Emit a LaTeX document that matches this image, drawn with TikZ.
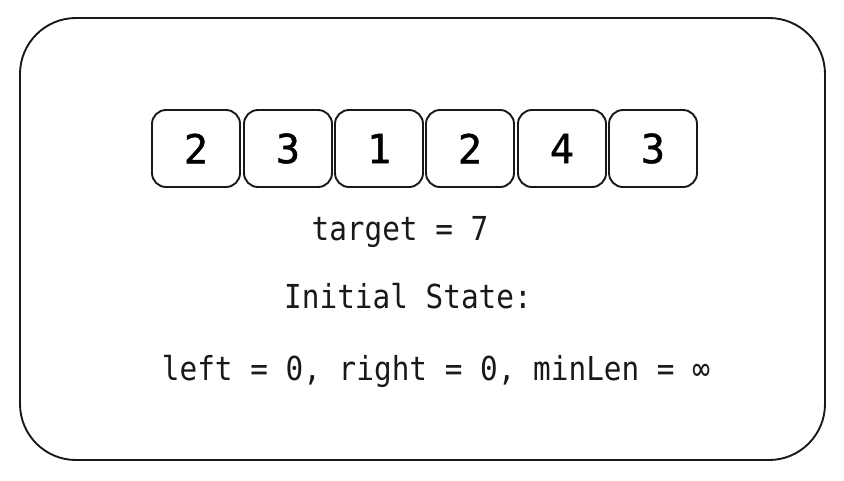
\documentclass[tikz,border=0pt]{standalone}
\usepackage{fontspec}
\newfontfamily\handmono[FakeStretch=0.89]{DejaVu Sans Mono}
\newfontfamily\handdigit[FakeStretch=1.0, FakeBold=1.2]{DejaVu Sans Mono}
\tikzset{
  cell/.style={draw=black!90, line width=1.9pt, rounded corners=14pt, minimum width=88pt, minimum height=77pt, inner sep=0pt, font=\handdigit\fontsize{40}{42}\selectfont},
  frame/.style={draw=black!90, line width=1.9pt, rounded corners=56pt},
  lbl/.style={inner sep=0pt, font=\handmono\fontsize{33}{36}\selectfont, text=black!90}
}
\begin{document}
\begin{tikzpicture}[x=1pt,y=-1pt]
\useasboundingbox (0,0) rectangle (844,480);
\draw[frame] (20,18) rectangle (825,460);
\node[cell] (c1) at (196,148.5) {2};
\node[cell] (c2) at (288,148.5) {3};
\node[cell] (c3) at (379,148.5) {1};
\node[cell] (c4) at (470,148.5) {2};
\node[cell] (c5) at (562,148.5) {4};
\node[cell] (c6) at (653,148.5) {3};
\node[lbl, anchor=base] (t) at (400,240) {target = 7};
\node[lbl, anchor=base] (s) at (408,308) {Initial State:};
\node[lbl, anchor=base] (v) at (436,380) {left = 0, right = 0, minLen = ∞};
\end{tikzpicture}
\end{document}
